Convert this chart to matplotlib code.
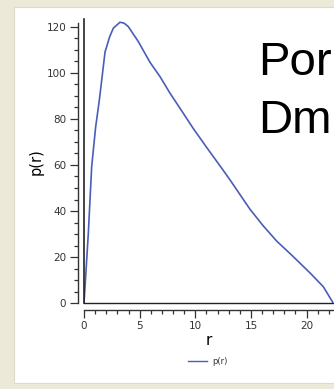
import matplotlib
matplotlib.use('Agg')
from matplotlib import pyplot as plt
from matplotlib.lines import Line2D
from matplotlib.patches import Rectangle
from matplotlib.ticker import MultipleLocator

# distribuição de distâncias
r = [0, 0.39, 0.69, 1.05, 1.38, 1.89, 2.3, 2.63, 3.23, 3.6, 3.98, 4.88,
     5.93, 6.83, 7.73, 8.92, 9.82, 11.02, 12.37, 13.12, 14.91, 16.1,
     17.31, 18.81, 20.3, 21.5, 22.34]
p = [0, 30.4, 59.3, 76.6, 88.2, 109, 115.5, 119.3, 121.9, 121.5, 120, 113.5,
     104.5, 98.3, 91.1, 82.4, 75.8, 67.6, 58.6, 53.5, 40.8, 33.6,
     27.0, 20.2, 13.2, 7.2, 0.5]

xticks = [0, 5, 10, 15, 20]
yticks = [0, 20, 40, 60, 80, 100, 120]

W, H = 334, 389
fig = plt.figure(figsize=(W / 100, H / 100), dpi=100)
fig.patch.set_facecolor('#ECE9D8')

# painel branco do slide
fig.add_artist(Rectangle((14 / W, 1 - 383 / H), 1, (383 - 7) / H,
                         transform=fig.transFigure, facecolor='white',
                         edgecolor='#DDDAC8', lw=0.8, zorder=-5))

ax = fig.add_axes([84 / W, 1 - 303.3 / H, (W - 84) / W, (303.3 - 19) / H])
ax.patch.set_alpha(0)
ax.plot(r, p, color='#4A5DB8', lw=1.2)
ax.set_xlim(0, 22.46)
ax.set_ylim(0, 123.3)

ax.axhline(0, color='#222222', lw=1.0, clip_on=False)
ax.axvline(0, color='#222222', lw=1.2, clip_on=False)

for s in ('top', 'right'):
    ax.spines[s].set_visible(False)
ax.spines['left'].set_position(('outward', 4.3))
ax.spines['bottom'].set_position(('outward', 4.5))
ax.spines['left'].set_bounds(0, 121.5)
for s in ('left', 'bottom'):
    ax.spines[s].set_color('#333333')
    ax.spines[s].set_linewidth(1.0)

ax.set_xticks(xticks)
ax.set_yticks(yticks)
ax.xaxis.set_minor_locator(MultipleLocator(1))
ax.yaxis.set_minor_locator(MultipleLocator(5))
ax.tick_params(which='major', length=5.5, width=0.9, color='#333333',
               labelsize=7.5, labelcolor='#333333', pad=3)
ax.tick_params(which='minor', length=3.0, width=0.9, color='#333333')

ax.set_xlabel('r', fontsize=11, labelpad=1)
ax.set_ylabel('p(r)', fontsize=10.5, labelpad=2)

# legenda abaixo do eixo
fig.add_artist(Line2D([188 / W, 207 / W], [1 - 361 / H, 1 - 361 / H],
                      transform=fig.transFigure, color='#4A5DB8', lw=1.0))
fig.text(212 / W, 1 - 361 / H, 'p(r)', fontsize=6, color='#333333',
         va='center', ha='left')

fig.text(258 / W, 1 - 75 / H, 'Por', fontsize=34, family='Liberation Sans',
         va='baseline', ha='left')
fig.text(258 / W, 1 - 133 / H, 'Dm', fontsize=34, family='Liberation Sans',
         va='baseline', ha='left')

fig.savefig('out.png', dpi=100, facecolor=fig.get_facecolor())
